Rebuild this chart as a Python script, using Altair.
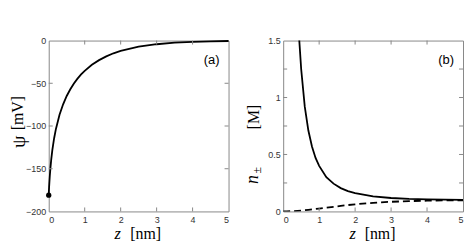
import altair as alt
import pandas as pd

# ---- data ----
z_psi = [0, 0.01, 0.02, 0.03, 0.05, 0.07, 0.1, 0.15, 0.2, 0.3, 0.4, 0.5, 0.6, 0.7,
         0.8, 0.9, 1.0, 1.2, 1.4, 1.6, 1.8, 2.0, 2.5, 3.0, 3.5, 4.0, 4.5, 5.0]
psi = [-179.5, -171.5, -164.5, -158.2, -147.8, -139.1, -128.3, -114.3, -103.4, -86.9,
       -74.6, -64.9, -57.0, -50.3, -44.6, -39.7, -35.5, -28.4, -22.9, -18.5, -14.9,
       -12.1, -7.2, -4.3, -2.5, -1.5, -0.9, -0.5]
z_point = [0]
psi_point = [-181]

z_plus = [0.3, 0.35, 0.4, 0.45, 0.5, 0.6, 0.7, 0.8, 0.9, 1.0, 1.2, 1.4, 1.6, 1.8,
          2.0, 2.5, 3.0, 3.5, 4.0, 4.5, 5.0]
n_plus = [2.94, 2.28, 1.82, 1.49, 1.25, 0.92, 0.71, 0.57, 0.47, 0.40, 0.30, 0.244,
          0.205, 0.179, 0.160, 0.132, 0.118, 0.110, 0.106, 0.103, 0.102]

z_minus = [0, 0.1, 0.2, 0.3, 0.4, 0.5, 0.6, 0.7, 0.8, 0.9, 1.0, 1.2, 1.4, 1.6, 1.8,
           2.0, 2.5, 3.0, 3.5, 4.0, 4.5, 5.0]
n_minus = [0.0001, 0.0007, 0.0018, 0.0034, 0.0055, 0.0080, 0.0109, 0.0141, 0.0176,
           0.0213, 0.0251, 0.0331, 0.0410, 0.0487, 0.0560, 0.0624, 0.0756, 0.0847,
           0.0907, 0.0943, 0.0966, 0.0980]

x_labels = [0, 1, 2, 3, 4, 5]
x_minor = [1, 2, 3, 4]
psi_labels = [0, -50, -100, -150, -200]
psi_ticks = [-50, -100, -150]
n_labels = [0, 0.5, 1, 1.5]
n_ticks = [0.25, 0.5, 0.75, 1, 1.25]

W, H = 181, 172
TL = 4
FRAME = "#888888"
SERIF = "Liberation Serif"
SANS = "Liberation Sans"


def mk_axis(vals, pad):
    return alt.Axis(values=vals, format="~f", ticks=False, domain=False,
                    grid=False, labelPadding=pad, title=None)


AX_X = mk_axis(x_labels, 4)
AX_A = mk_axis(psi_labels, 3)
AX_B = mk_axis(n_labels, 3)


def ticks_x(xs):
    df = pd.DataFrame({"x": x_minor})
    bot = alt.Chart(df).mark_rule(color=FRAME, strokeWidth=1).encode(
        x=alt.X("x:Q", scale=xs, axis=AX_X), y=alt.value(H), y2=alt.value(H - TL))
    top = alt.Chart(df).mark_rule(color=FRAME, strokeWidth=1).encode(
        x=alt.X("x:Q", scale=xs, axis=AX_X), y=alt.value(0), y2=alt.value(TL))
    return [bot, top]


def ticks_y(vals, ys, ax):
    df = pd.DataFrame({"y": vals})
    l = alt.Chart(df).mark_rule(color=FRAME, strokeWidth=1).encode(
        y=alt.Y("y:Q", scale=ys, axis=ax), x=alt.value(0), x2=alt.value(TL))
    r = alt.Chart(df).mark_rule(color=FRAME, strokeWidth=1).encode(
        y=alt.Y("y:Q", scale=ys, axis=ax), x=alt.value(W - TL), x2=alt.value(W))
    return [l, r]


def label(text, x, y, size, font=SERIF, style="normal", angle=0, baseline="middle"):
    kw = dict(font=font, fontSize=size, fontStyle=style, color="black",
              align="center", baseline=baseline)
    if angle:
        kw["angle"] = angle
    return alt.Chart(pd.DataFrame({"t": [text]})).mark_text(**kw).encode(
        x=alt.value(x), y=alt.value(y), text="t:N")


xs = alt.Scale(domain=[0, 5], nice=False, zero=False)

# ---- panel (a) ----
ys_a = alt.Scale(domain=[-200, 0], nice=False)
curve_a = alt.Chart(pd.DataFrame({"z": z_psi, "psi": psi})).mark_line(
    color="black", strokeWidth=1.8).encode(
    x=alt.X("z:Q", scale=xs, axis=AX_X),
    y=alt.Y("psi:Q", scale=ys_a, axis=AX_A))
point_a = alt.Chart(pd.DataFrame({"z": z_point, "psi": psi_point})).mark_circle(
    color="black", size=28, opacity=1).encode(
    x=alt.X("z:Q", scale=xs, axis=AX_X), y=alt.Y("psi:Q", scale=ys_a, axis=AX_A))

panel_a = alt.layer(
    curve_a, point_a, *ticks_x(xs), *ticks_y(psi_ticks, ys_a, AX_A),
    label("(a)", 164, 20, 13, font=SANS),
    label("[mV]", -31, 73, 16, angle=270),
    label("ψ", -30, 102, 20, angle=270),
    label("z", 69.5, 200, 16.5, style="italic", baseline="alphabetic"),
    label("[nm]", 97.5, 200, 16, baseline="alphabetic"),
).properties(width=W, height=H)

# ---- panel (b) ----
ys_b = alt.Scale(domain=[0, 1.5], nice=False)
solid_b = alt.Chart(pd.DataFrame({"z": z_plus, "n": n_plus})).mark_line(
    color="black", strokeWidth=1.8, clip=True).encode(
    x=alt.X("z:Q", scale=xs, axis=AX_X),
    y=alt.Y("n:Q", scale=ys_b, axis=AX_B))
dash_b = alt.Chart(pd.DataFrame({"z": z_minus, "n": n_minus})).mark_line(
    color="black", strokeWidth=1.8, strokeDash=[7, 4], clip=True).encode(
    x=alt.X("z:Q", scale=xs, axis=AX_X), y=alt.Y("n:Q", scale=ys_b, axis=AX_B))

panel_b = alt.layer(
    solid_b, dash_b, *ticks_x(xs), *ticks_y(n_ticks, ys_b, AX_B),
    label("(b)", 164, 20, 13, font=SANS),
    label("[M]", -29, 77, 16, angle=270),
    label("±", -26, 130.5, 12, angle=270),
    label("n", -30, 140, 18, style="italic", angle=270),
    label("z", 70, 200, 16.5, style="italic", baseline="alphabetic"),
    label("[nm]", 97.5, 200, 16, baseline="alphabetic"),
).properties(width=W, height=H)

chart = alt.hconcat(panel_a, panel_b, spacing=55, bounds="flush").properties(
    padding={"left": 0, "top": 27, "right": 0, "bottom": 0}
).configure_view(stroke=FRAME, strokeWidth=1).configure_axis(
    labelFont=SANS, labelFontSize=9, labelColor="#333333")

chart.save("out.html", embed_options={"renderer": "svg", "actions": False})
